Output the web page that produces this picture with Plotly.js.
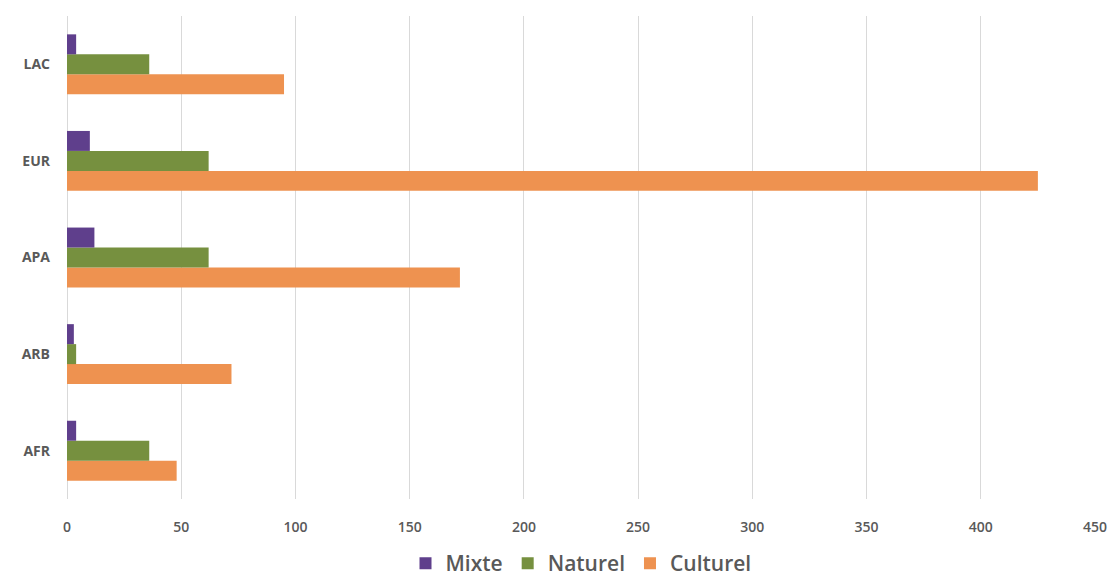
<!DOCTYPE html>
<html>
<head>
<meta charset="utf-8">
<script src="https://cdn.plot.ly/plotly-3.0.1.min.js"></script>
<style>html,body{margin:0;padding:0;background:#fff;}#chart{width:1110px;height:584px;}</style>
</head>
<body>
<div id="chart"></div>
<script>
const categories = ['AFR', 'ARB', 'APA', 'EUR', 'LAC'];
const mixte = [4, 3, 12, 10, 4];
const naturel = [36, 4, 62, 62, 36];
const culturel = [48, 72, 172, 425, 95];
const xTicks = [0, 50, 100, 150, 200, 250, 300, 350, 400, 450];

const traces = [
  {name: 'Culturel', values: culturel, color: '#ee9250'},
  {name: 'Naturel', values: naturel, color: '#76903f'},
  {name: 'Mixte', values: mixte, color: '#5f3f8c'}
].map(s => ({
  type: 'bar', orientation: 'h', name: s.name,
  x: s.values, y: categories,
  marker: {color: s.color},
  hoverinfo: 'x+name'
}));

const layout = {
  width: 1110, height: 584,
  margin: {l: 67, r: 15, t: 16, b: 85, autoexpand: false},
  paper_bgcolor: '#fff', plot_bgcolor: '#fff',
  barmode: 'group', bargap: 0.38, bargroupgap: 0,
  font: {family: 'Open Sans, sans-serif', color: '#595959'},
  xaxis: {
    range: [0, 450], tickvals: xTicks, ticktext: xTicks.map(String),
    showgrid: true, gridcolor: '#d9d9d9', gridwidth: 1,
    zeroline: true, zerolinecolor: '#d9d9d9', zerolinewidth: 1,
    showline: false, ticks: '', ticklabelstandoff: 18,
    tickfont: {size: 14, color: '#595959', family: 'Open Sans, sans-serif', weight: 600},
    fixedrange: true
  },
  yaxis: {
    categoryorder: 'array', categoryarray: categories,
    showgrid: false, zeroline: false, showline: false, ticks: '',
    ticklabelstandoff: 16,
    tickfont: {size: 14, color: '#595959', family: 'Open Sans, sans-serif', weight: 700},
    fixedrange: true
  },
  legend: {
    orientation: 'h', x: 0.5, xanchor: 'center',
    yref: 'container', y: -0.012, yanchor: 'bottom',
    traceorder: 'reversed',
    font: {size: 21, color: '#595959', family: 'Open Sans, sans-serif', weight: 600},
    itemwidth: 30
  },
  showlegend: true
};

Plotly.newPlot('chart', traces, layout, {displayModeBar: false, staticPlot: true});
</script>
</body>
</html>
